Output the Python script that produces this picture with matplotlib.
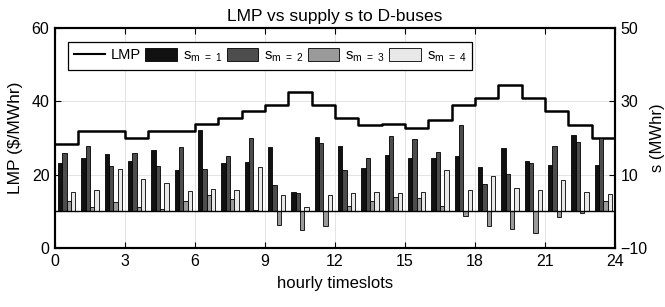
import matplotlib
matplotlib.use('Agg')
import matplotlib.pyplot as plt
import numpy as np
from matplotlib.lines import Line2D
from matplotlib.patches import Patch

plt.rcParams['font.family'] = ['Liberation Sans', 'DejaVu Sans']
plt.rcParams['mathtext.default'] = 'regular'

hours = np.arange(24)

# LMP per hour ($/MWhr)
lmp = [28.4, 31.9, 31.9, 30.1, 31.9, 31.9, 33.7, 35.5, 37.4, 39.0, 42.6, 39.0,
       35.4, 33.5, 33.9, 32.6, 34.9, 39.0, 40.8, 44.5, 40.8, 37.4, 33.5, 30.1]

# supply s to D-buses (MWhr), one list per m
s1 = [13.3, 14.5, 15.6, 13.8, 16.8, 11.4, 22.2, 13.2, 13.4, 17.6, 5.3, 20.3,
      17.7, 11.8, 15.5, 14.5, 14.5, 15.2, 12.1, 17.2, 13.6, 12.6, 20.8, 12.7]
s2 = [15.8, 17.9, 12.5, 15.9, 12.5, 17.5, 11.5, 15.0, 20.0, 7.1, 5.0, 18.6,
      11.4, 14.5, 20.5, 19.8, 16.2, 23.5, 7.5, 10.2, 13.2, 17.9, 19.0, 19.9]
s3 = [2.8, 1.2, 2.5, 1.1, 0.6, 2.8, 4.5, 3.4, 0.4, -3.6, -5.0, -3.9,
      1.5, 2.8, 4.0, 3.7, 1.5, -1.2, -4.1, -4.7, -5.9, -1.6, -0.5, 2.7]
s4 = [5.3, 5.7, 11.5, 8.9, 7.8, 5.5, 6.1, 5.8, 12.0, 4.5, 1.2, 4.5,
      5.1, 5.3, 5.0, 5.3, 11.2, 5.9, 9.6, 6.4, 5.8, 8.6, 5.3, 4.8]

series = [s1, s2, s3, s4]
colors = ['#111111', '#4d4d4d', '#9a9a9a', '#e8e8e8']
labels = ['LMP'] + [r'$s_{m\ =\ %d}$' % (i + 1) for i in range(4)]

fig = plt.figure(figsize=(6.65, 3.07), dpi=100)
ax = fig.add_axes([0.0827, 0.192, 0.8421, 0.717])
ax2 = ax.twinx()

# step line for LMP
x_step = np.append(hours, 24)
y_step = np.append(lmp, lmp[-1])
ax.plot(x_step, y_step, drawstyle='steps-post', color='k', lw=1.8)

bw = 0.185
for i, s in enumerate(series):
    ax2.bar(hours + 0.5 + (i - 1.5) * bw, s, bw, color=colors[i],
            edgecolor='k', linewidth=0.6)
ax2.axhline(0, color='k', lw=1.0)

ax.set_xlim(0, 24)
ax.set_ylim(0, 60)
ax2.set_ylim(-10, 50)
ax.set_xticks(range(0, 25, 3))
ax.set_yticks([0, 20, 40, 60])
ax2.set_yticks([-10, 10, 30, 50])

ax.grid(True, color='#e3e3e3', lw=0.7)
ax.set_axisbelow(True)

for a in (ax, ax2):
    a.tick_params(direction='in', length=4, width=0.8, labelsize=11.5)
    for sp in a.spines.values():
        sp.set_linewidth(1.5)
ax.tick_params(top=True, pad=4)
ax2.tick_params(pad=4)

ax.set_title('LMP vs supply s to D-buses', fontsize=12.5, pad=5)
ax.set_xlabel('hourly timeslots', fontsize=12, labelpad=5)
ax.set_ylabel('LMP (\\$/MWhr)', fontsize=12.5, labelpad=6)
ax2.set_ylabel('s (MWhr)', fontsize=12)
ax2.yaxis.set_label_coords(1.062, 0.5)

handles = [Line2D([], [], color='k', lw=1.5)]
handles += [Patch(facecolor=c, edgecolor='k', lw=0.6) for c in colors]
leg = ax2.legend(handles, labels, ncol=5, loc='upper left',
                 bbox_to_anchor=(0.023, 0.936), borderaxespad=0,
                 fontsize=10.5, fancybox=False, framealpha=1,
                 edgecolor='k', handlelength=2.15, handleheight=1.0,
                 handletextpad=0.4, columnspacing=0.3, borderpad=0.4)
leg.get_frame().set_linewidth(0.9)

fig.savefig('out.png', dpi=100)
